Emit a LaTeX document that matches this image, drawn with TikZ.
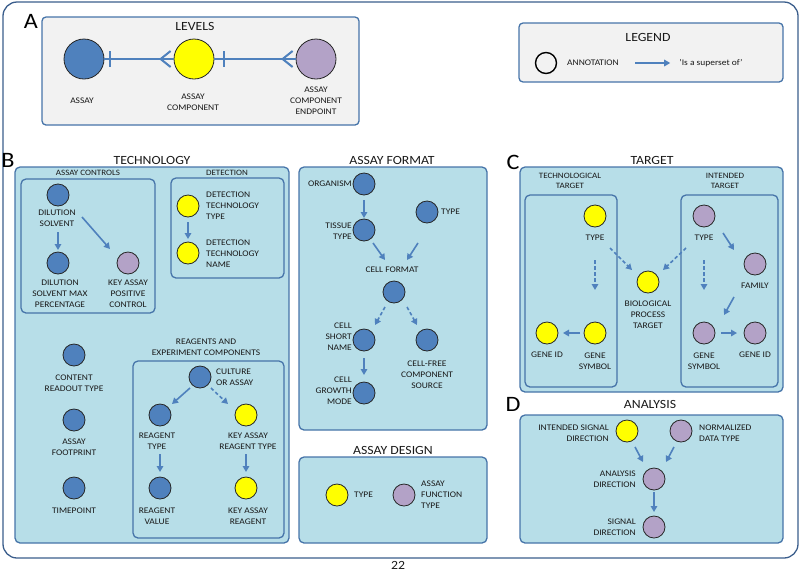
\documentclass[tikz,border=0pt]{standalone}
\usepackage{fontspec}
\setmainfont{Carlito}[FakeStretch=1.1]
\usetikzlibrary{arrows.meta,calc}
\definecolor{cblue}{HTML}{4F81BD}
\definecolor{cyel}{HTML}{FFFF00}
\definecolor{cpur}{HTML}{B3A2C7}
\definecolor{panelbg}{HTML}{B7DEE8}
\definecolor{panelbd}{HTML}{4674A9}
\definecolor{grayfill}{HTML}{F2F2F2}
\definecolor{ablue}{HTML}{4F81BD}
\definecolor{framec}{HTML}{3B5E8C}
\tikzset{
  panel/.style={fill=panelbg,draw=panelbd,line width=1.3pt,rounded corners=5pt},
  graybox/.style={fill=grayfill,draw=panelbd,line width=1.3pt,rounded corners=4pt},
  circ/.style={circle,minimum size=22pt,inner sep=0pt,draw=black!85,line width=0.8pt},
  bc/.style={circ,fill=cblue},
  yc/.style={circ,fill=cyel},
  pc/.style={circ,fill=cpur},
  lbl/.style={font=\fontsize{8.6}{11}\selectfont,align=center,inner sep=0pt,text=black!90},
  sublbl/.style={font=\fontsize{8.2}{10.5}\selectfont,align=center,inner sep=0pt,text=black!90},
  ttl/.style={font=\fontsize{12.5}{14}\selectfont,inner sep=0pt,text=black!90},
  bigl/.style={font=\fontsize{22}{24}\selectfont,inner sep=0pt},
  arr/.style={draw=ablue,line width=1.6pt,-{Triangle[length=6pt,width=6.5pt]}},
  darr/.style={arr,dash pattern=on 3.5pt off 2.5pt},
  lvl/.style={draw=ablue,line width=2pt},
}
\begin{document}
\begin{tikzpicture}[x=1pt,y=-1pt]
\useasboundingbox (0,0) rectangle (803,574);
% outer frame
\draw[draw=framec,line width=1.3pt,rounded corners=14pt] (3,2) rectangle (798,558);
\node[ttl,anchor=north] (pagenum) at (398,561) {22};

% ---------- Panel A ----------
\node[bigl] (labA) at (31,21) {A};
\draw[graybox] (42,17) rectangle (359,125);
\node[ttl] (levels) at (195,26) {LEVELS};
\node[bc,minimum size=40pt] (assay) at (84,59) {};
\node[yc,minimum size=40pt] (acomp) at (194,59) {};
\node[pc,minimum size=40pt] (aep) at (316,59) {};
\draw[lvl] (assay.east) -- (acomp.west);
\draw[lvl] ($(assay.east)+(6,-8)$) -- ($(assay.east)+(6,8)$);
\draw[lvl] ($(acomp.west)+(-3,-8)$) -- ($(acomp.west)+(-13,0)$) -- ($(acomp.west)+(-3,8)$);
\draw[lvl] (acomp.east) -- (aep.west);
\draw[lvl] ($(acomp.east)+(10,-8)$) -- ($(acomp.east)+(10,8)$);
\draw[lvl] ($(aep.west)+(-3,-8)$) -- ($(aep.west)+(-13,0)$) -- ($(aep.west)+(-3,8)$);
\node[lbl] (assayL) at (82,101) {ASSAY};
\node[lbl] (acompL) at (193,102) {ASSAY\\COMPONENT};
\node[lbl] (aepL) at (316,101) {ASSAY\\COMPONENT\\ENDPOINT};

% ---------- Legend ----------
\draw[graybox] (519,23) rectangle (783,82);
\node[ttl] (legend) at (648,37) {LEGEND};
\node[circle,minimum size=21pt,inner sep=0pt,draw=black,line width=1.4pt] (legc) at (546,63) {};
\node[lbl] (annot) at (593,63) {ANNOTATION};
\node[lbl] (sup) at (711,63) {'Is a superset of'};
\draw[arr,line width=2pt] ([xshift=16pt]annot.east) -- ([xshift=-9pt]sup.west);

% ---------- Panel B : Technology ----------
\node[bigl] (labB) at (8,160) {B};
\node[ttl] (tech) at (152,160) {TECHNOLOGY};
\draw[panel] (15,167) rectangle (289,543);
\draw[panel] (21,179) rectangle (155,313);
\node[sublbl] (actl) at (88,173) {ASSAY CONTROLS};
\draw[panel] (171,178) rectangle (284,278);
\node[sublbl] (detl) at (227,173) {DETECTION};

\node[bc] (ds) at (58,195) {};
\node[lbl] (dsL) at (57,218.5) {DILUTION\\SOLVENT};
\node[bc] (dsm) at (58,263) {};
\node[lbl] (dsmL) at (60,294) {DILUTION\\SOLVENT MAX\\PERCENTAGE};
\node[pc] (kapc) at (128,263) {};
\node[lbl] (kapcL) at (128,294) {KEY ASSAY\\POSITIVE\\CONTROL};
\draw[arr] ($(ds)+(0,37)$) -- ($(dsm)+(0,-13)$);
\draw[arr] ($(ds)+(24,22)$) -- ($(kapc)+(-18,-14)$);

\node[yc] (dtt) at (188,206) {};
\node[lbl,anchor=west,align=left] (dttL) at (206,206) {DETECTION\\TECHNOLOGY\\TYPE};
\node[yc] (dtn) at (188,253) {};
\node[lbl,anchor=west,align=left] (dtnL) at (206,254) {DETECTION\\TECHNOLOGY\\NAME};
\draw[arr] ($(dtt)+(0,16)$) -- ($(dtn)+(0,-14)$);

\node[bc] (crt) at (74,355) {};
\node[lbl] (crtL) at (74,383) {CONTENT\\READOUT TYPE};
\node[bc] (afp) at (74,420) {};
\node[lbl] (afpL) at (74,447.5) {ASSAY\\FOOTPRINT};
\node[bc] (tp) at (74,488) {};
\node[lbl] (tpL) at (74,511) {TIMEPOINT};

\node[lbl] (reagL) at (206,347.5) {REAGENTS AND\\EXPERIMENT COMPONENTS};
\draw[panel] (133,361) rectangle (284,538);
\node[bc] (cul) at (200,377) {};
\node[lbl,anchor=west,align=left] (culL) at (216,377.5) {CULTURE\\OR ASSAY};
\node[bc] (rt) at (160,415) {};
\node[lbl] (rtL) at (157,441) {REAGENT\\TYPE};
\node[yc] (kart) at (246,415) {};
\node[lbl] (kartL) at (248,441) {KEY ASSAY\\REAGENT TYPE};
\node[bc] (rv) at (160,488) {};
\node[lbl] (rvL) at (157,516) {REAGENT\\VALUE};
\node[yc] (kar) at (246,488) {};
\node[lbl] (karL) at (248,516) {KEY ASSAY\\REAGENT};
\draw[arr] ($(cul)+(-10,11)$) -- ($(rt)+(12,-11)$);
\draw[darr] ($(cul)+(11,11)$) -- ($(kart)+(-18,-11)$);
\draw[arr] ($(rt)+(0,39)$) -- ($(rv)+(0,-16)$);
\draw[arr] ($(kart)+(0,39)$) -- ($(kar)+(0,-16)$);

% ---------- Assay format ----------
\node[ttl] (afmt) at (392,160) {ASSAY FORMAT};
\draw[panel] (299,167) rectangle (487,430);
\node[bc] (org) at (364,184) {};
\node[lbl,anchor=east] (orgL) at (352,184) {ORGANISM};
\node[bc] (tis) at (364,230) {};
\node[lbl,anchor=east,align=right] (tisL) at (352,231) {TISSUE\\TYPE};
\node[bc] (typ) at (427,212) {};
\node[lbl,anchor=west] (typL) at (441,212) {TYPE};
\node[lbl] (cfL) at (392,270) {CELL FORMAT};
\node[bc] (cf) at (394,292) {};
\node[bc] (csn) at (364,340) {};
\node[lbl,anchor=east,align=right] (csnL) at (352,337) {CELL\\SHORT\\NAME};
\node[bc] (cfree) at (427,340) {};
\node[lbl] (cfreeL) at (427,375) {CELL-FREE\\COMPONENT\\SOURCE};
\node[bc] (cgm) at (364,393) {};
\node[lbl,anchor=east,align=right] (cgmL) at (352,391) {CELL\\GROWTH\\MODE};
\draw[arr] ($(org)+(0,16)$) -- ($(tis)+(0,-12)$);
\draw[arr] ($(tis)+(9,13)$) -- ($(cf)+(-9,-32)$);
\draw[arr] ($(typ)+(-9,31)$) -- ($(cf)+(13,-32)$);
\draw[darr] ($(cf)+(-9,15)$) -- ($(csn)+(11,-15)$);
\draw[darr] ($(cf)+(13,15)$) -- ($(cfree)+(-10,-15)$);
\draw[arr] ($(csn)+(0,18)$) -- ($(cgm)+(0,-18)$);

% ---------- Assay design ----------
\node[ttl] (ades) at (393,450) {ASSAY DESIGN};
\draw[panel] (299,457) rectangle (487,543);
\node[yc] (adt) at (337,495) {};
\node[lbl,anchor=west] (adtL) at (354,495) {TYPE};
\node[pc] (aft) at (404,495) {};
\node[lbl,anchor=west,align=left] (aftL) at (421,495) {ASSAY\\FUNCTION\\TYPE};

% ---------- Panel C : Target ----------
\node[bigl] (labC) at (513,162) {C};
\node[ttl] (tgt) at (652,160) {TARGET};
\draw[panel] (520,167) rectangle (783,392);
\node[sublbl] (ttL) at (570,181) {TECHNOLOGICAL\\TARGET};
\node[sublbl] (itL) at (725,181) {INTENDED\\TARGET};
\draw[panel] (525,195) rectangle (617,387);
\draw[panel] (681,195) rectangle (778,387);

\node[yc] (ttype) at (595,216) {};
\node[lbl] (ttypeL) at (595,238) {TYPE};
\node[yc] (tgs) at (595,333) {};
\node[lbl] (tgsL) at (595,361) {GENE\\SYMBOL};
\node[yc] (tgid) at (547,333) {};
\node[lbl] (tgidL) at (547,355) {GENE ID};
\node[yc] (bio) at (648,282) {};
\node[lbl] (bioL) at (648,315) {BIOLOGICAL\\PROCESS\\TARGET};
\node[pc] (itype) at (704,216) {};
\node[lbl] (itypeL) at (704,238) {TYPE};
\node[pc] (fam) at (755,264) {};
\node[lbl] (famL) at (755,286) {FAMILY};
\node[pc] (igs) at (704,333) {};
\node[lbl] (igsL) at (704,361) {GENE\\SYMBOL};
\node[pc] (igid) at (755,333) {};
\node[lbl] (igidL) at (755,355) {GENE ID};
\draw[darr] ($(ttype)+(0,44)$) -- ($(tgs)+(0,-43)$);
\draw[arr] ($(tgs)+(-15,0)$) -- ($(tgid)+(16,0)$);
\draw[darr] ($(ttype)+(15,32)$) -- ($(bio)+(-16,-12)$);
\draw[darr] ($(itype)+(-18,32)$) -- ($(bio)+(15,-12)$);
\draw[arr] ($(itype)+(19,17)$) -- ($(fam)+(-21,-14)$);
\draw[arr] ($(fam)+(-21,33)$) -- ($(igs)+(20,-18)$);
\draw[darr] ($(itype)+(0,44)$) -- ($(igs)+(0,-43)$);
\draw[arr] ($(igs)+(17,0)$) -- ($(igid)+(-18,0)$);

% ---------- Panel D : Analysis ----------
\node[bigl] (labD) at (513,404) {D};
\node[ttl] (anl) at (650,404) {ANALYSIS};
\draw[panel] (520,415) rectangle (783,543);
\node[yc] (isd) at (627,431) {};
\node[lbl,anchor=east,align=right] (isdL) at (609,433.5) {INTENDED SIGNAL\\DIRECTION};
\node[pc] (ndt) at (681,431) {};
\node[lbl,anchor=west,align=left] (ndtL) at (699,433.5) {NORMALIZED\\DATA TYPE};
\node[pc] (ad) at (654,479) {};
\node[lbl,anchor=east,align=right] (adL) at (636,479) {ANALYSIS\\DIRECTION};
\node[pc] (sd) at (654,527) {};
\node[lbl,anchor=east,align=right] (sdL) at (636,527.5) {SIGNAL\\DIRECTION};
\draw[arr] ($(isd)+(8,16)$) -- ($(ad)+(-11,-17)$);
\draw[arr] ($(ndt)+(-7,16)$) -- ($(ad)+(12,-17)$);
\draw[arr] ($(ad)+(0,13)$) -- ($(sd)+(0,-15)$);
\end{tikzpicture}
\end{document}
